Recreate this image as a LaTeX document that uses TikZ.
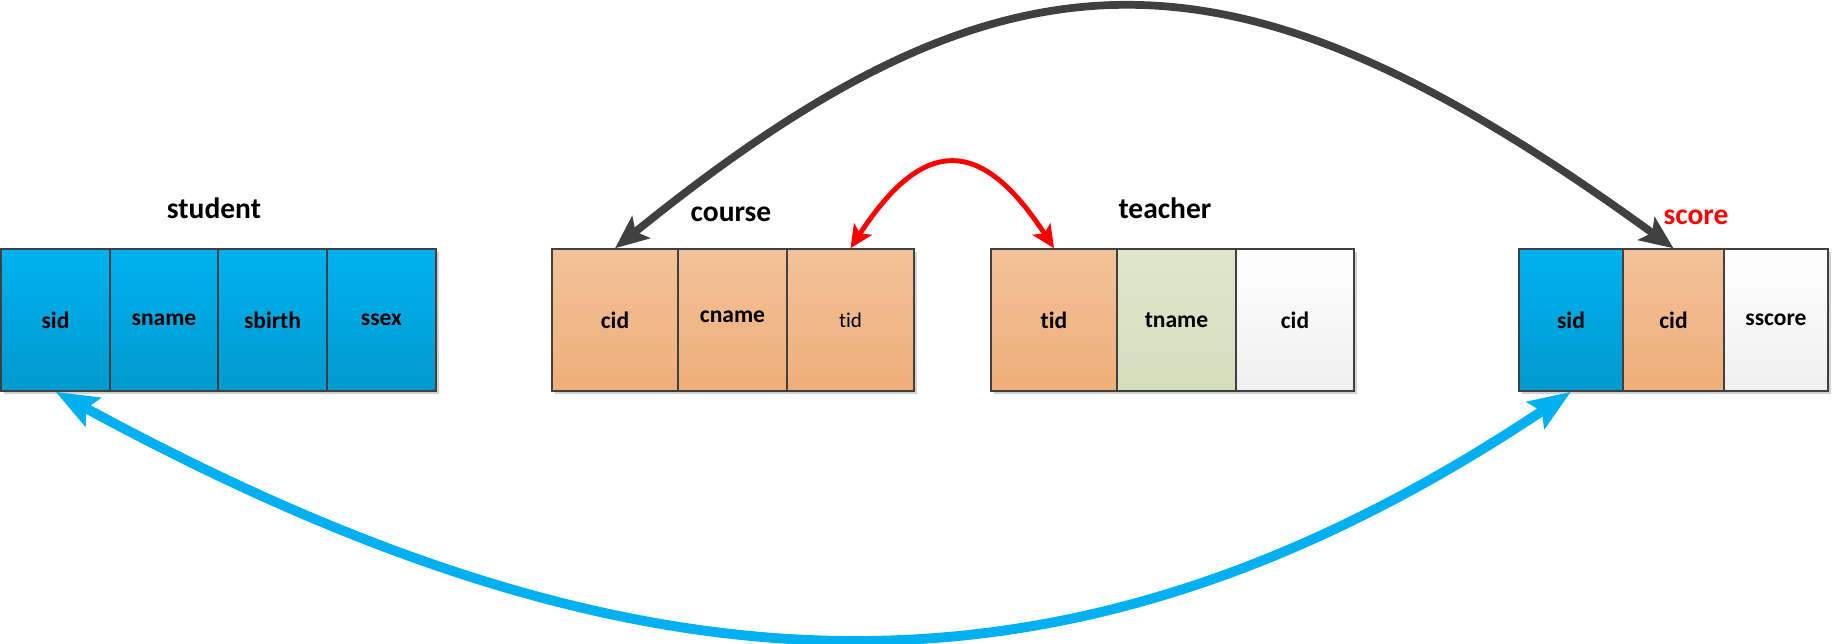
\documentclass[tikz,border=0pt]{standalone}
\usepackage{fontspec}
\setmainfont{Carlito}[Ligatures=NoCommon]
\usepackage{tikz}
\usetikzlibrary{shadows}
\usetikzlibrary{arrows.meta}
\definecolor{linegray}{RGB}{64,64,64}
\definecolor{bluetop}{RGB}{0,178,240}
\definecolor{bluebot}{RGB}{0,153,206}
\definecolor{orangetop}{RGB}{242,194,153}
\definecolor{orangebot}{RGB}{239,174,121}
\definecolor{greentop}{RGB}{223,230,204}
\definecolor{greenbot}{RGB}{212,222,188}
\definecolor{whitebot}{RGB}{239,239,239}
\definecolor{linkblue}{RGB}{0,176,240}
\tikzstyle{cell}=[rectangle,draw=linegray,line width=0.4pt,minimum height=1.42cm,inner sep=0pt,
  font=\fontsize{6.7}{8}\selectfont\bfseries,
  drop shadow={shadow xshift=0.03cm,shadow yshift=-0.03cm,fill=black!35,opacity=0.5}]
\tikzstyle{bluecell}=[cell,top color=bluetop,bottom color=bluebot]
\tikzstyle{orangecell}=[cell,top color=orangetop,bottom color=orangebot]
\tikzstyle{greencell}=[cell,top color=greentop,bottom color=greenbot]
\tikzstyle{whitecell}=[cell,top color=white,bottom color=whitebot]
\tikzstyle{title}=[font=\fontsize{8.4}{10}\selectfont\bfseries]
\tikzstyle{link}=[draw,line width=2.2pt,color=linegray]

\begin{document}
\begin{tikzpicture}
  \useasboundingbox (0,0) rectangle (18.32,6.43);
  \def\y{3.23};

  % table titles
  \node[title] (student) at (2.14, 4.35) {student};
  \node[title] (course) at (7.31, 4.29) {course};
  \node[title] (teacher) at (11.65, 4.35) {teacher};
  \node[title, red] (score) at (16.96, 4.26) {score};

  % student
  \foreach \x/\w/\name/\label in {0.555/1.09/st-sid/sid, 1.64/1.08/st-sname/sname, 2.725/1.09/st-sbirth/sbirth, 3.815/1.09/st-ssex/ssex}
     \node[bluecell, minimum width=\w cm] (\name) at (\x, \y) {\label};

  % course
  \foreach \x/\w/\name/\label in {6.15/1.26/co-cid/cid, 7.325/1.09/co-cname/{\raisebox{2pt}{cname}}}
     \node[orangecell, minimum width=\w cm] (\name) at (\x, \y) {\label};
  \node[orangecell, minimum width=1.27cm, font=\fontsize{6}{7}\selectfont] (co-tid) at (8.505, \y) {tid};

  % teacher
  \node[orangecell, minimum width=1.26cm] (te-tid) at (10.54, \y) {tid};
  \node[greencell, minimum width=1.19cm] (te-tname) at (11.765, \y) {tname};
  \node[whitecell, minimum width=1.18cm] (te-cid) at (12.95, \y) {cid};

  % score
  \node[bluecell, minimum width=1.04cm] (sc-sid) at (15.71, \y) {sid};
  \node[orangecell, minimum width=1.01cm] (sc-cid) at (16.735, \y) {cid};
  \node[whitecell, minimum width=1.04cm] (sc-sscore) at (17.76, \y) {sscore};

  % links
  \draw[link, {Stealth[length=9.5pt,width=8pt,inset=2pt]}-{Stealth[length=9.5pt,width=8pt,inset=2pt]}]
     (co-cid.north) .. controls +(39:5.08) and +(144:5.44) .. (sc-cid.north);
  \draw[link, red, line width=1.4pt, {Stealth[length=6.5pt,width=6pt,inset=1.5pt]}-{Stealth[length=6.5pt,width=6pt,inset=1.5pt]}]
     (co-tid.north) .. controls +(57:1.34) and +(123:1.34) .. (te-tid.north);
  \draw[link, linkblue, line width=2.8pt, {Stealth[length=12pt,width=9pt,inset=2pt]}-{Stealth[length=12pt,width=9pt,inset=2pt]}]
     (st-sid.south) .. controls +(-28.5:6.6) and +(213.7:6.1) .. (sc-sid.south);

\end{tikzpicture}
\end{document}
